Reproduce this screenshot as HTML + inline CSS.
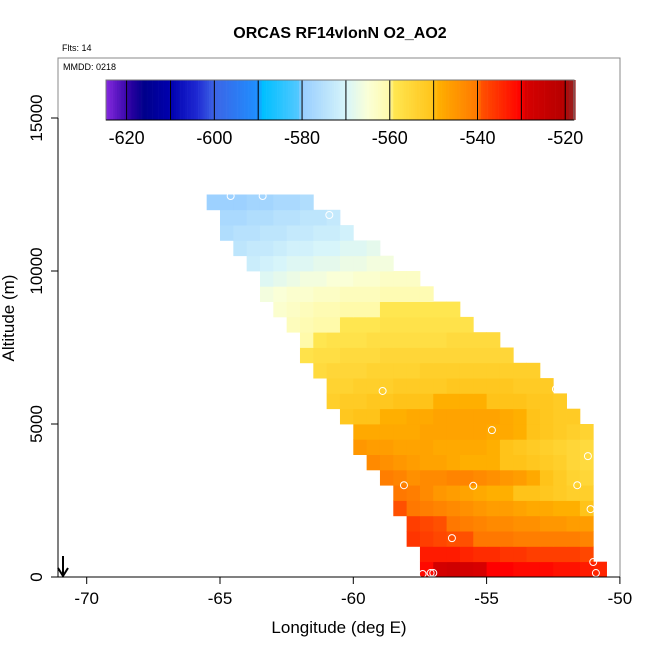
<!DOCTYPE html>
<html><head><meta charset="utf-8"><style>
body{margin:0;background:#fff;}
svg{display:block;font-family:"Liberation Sans",sans-serif;}
</style></head><body>
<svg id="chart" width="650" height="650" viewBox="0 0 650 650" xmlns="http://www.w3.org/2000/svg">
<rect width="650" height="650" fill="#fff"/>
<text x="340" y="38" text-anchor="middle" font-size="16" font-weight="bold">ORCAS RF14vlonN O2_AO2</text>
<text x="62" y="51" font-size="9">Flts: 14</text>
<g id="cells"></g>
<g id="pts"></g>
<rect x="58" y="58" width="562" height="519" fill="none" stroke="#888" stroke-width="1"/>
<text x="63" y="70" font-size="9">MMDD: 0218</text>
<g id="cbar"></g>
<g id="axes"></g>
<text x="339" y="633" text-anchor="middle" font-size="17">Longitude (deg E)</text>
<text transform="translate(14,318) rotate(-90)" text-anchor="middle" font-size="17">Altitude (m)</text>
<g stroke="#000" stroke-width="2" fill="none">
<line x1="63" y1="556" x2="63" y2="576"/><polyline points="58,568 63,576 68,568"/>
</g>
</svg>
<script>
const xTicks=[-70,-65,-60,-55,-50];
const yTicks=[0,5000,10000,15000];
const cbTicks=[-620,-600,-580,-560,-540,-520];
const rowAlt=[0,500,1000,1500,2000,2500,3000,3500,4000,4500,5000,5500,6000,6500,7000,7500,8000,8500,9000,9500,10000,10500,11000,11500,12000];
const rowStart=[-57.5,-57.5,-58,-58,-58.5,-58.5,-59,-59.5,-60,-60,-60.5,-61,-61,-61.5,-62,-62,-62.5,-63,-63.5,-63.5,-64,-64.5,-65,-65,-65.5];
const rowVals=[
[-531,-528,-527,-528,-529,-530,-530,-531,-531,-531,-532,-532,-533,-534],
[-533,-533,-533,-534,-535,-535,-536,-536,-537,-537,-537,-537,-538],
[-536,-537,-538,-539,-539,-540,-540,-540,-541,-541,-541,-541,-541,-542],
[-537,-538,-539,-540,-541,-542,-543,-543,-544,-544,-545,-545,-546,-546],
[-539,-540,-541,-542,-543,-544,-545,-546,-546,-547,-548,-548,-549,-549,-550],
[-540,-541,-543,-545,-546,-547,-548,-549,-549,-550,-550,-551,-552,-553,-553],
[-541,-542,-544,-543,-543,-542,-542,-543,-544,-545,-546,-548,-550,-552,-554,-555],
[-543,-544,-545,-546,-547,-547,-548,-549,-549,-549,-550,-550,-551,-552,-553,-555,-556],
[-545,-546,-546,-547,-547,-547,-548,-548,-548,-548,-549,-550,-551,-552,-553,-554,-555,-556],
[-548,-548,-548,-548,-548,-547,-547,-547,-547,-547,-548,-548,-549,-550,-551,-552,-553,-554],
[-551,-550,-550,-549,-549,-548,-548,-547,-547,-547,-547,-547,-548,-549,-550,-551,-552,-552],
[-553,-552,-552,-551,-551,-550,-550,-550,-549,-549,-549,-549,-550,-550,-550,-551,-551,-552],
[-554,-554,-553,-553,-553,-552,-552,-552,-552,-551,-551,-551,-551,-551,-552,-552,-552],
[-556,-555,-555,-555,-554,-554,-554,-554,-553,-553,-553,-553,-553,-553,-553,-553,-553],
[-558,-557,-557,-556,-556,-556,-555,-555,-555,-555,-555,-555,-555,-555,-555,-555],
[-560,-559,-558,-558,-558,-557,-557,-557,-557,-557,-557,-556,-556,-556,-556],
[-562,-561,-560,-560,-559,-559,-559,-558,-558,-558,-558,-558,-558,-558],
[-564,-563,-562,-561,-561,-560,-560,-560,-559,-559,-559,-559,-559,-559],
[-566,-565,-564,-564,-563,-563,-562,-562,-562,-561,-561,-561,-561],
[-569,-568,-567,-566,-566,-565,-565,-564,-564,-563,-563,-563],
[-572,-571,-570,-569,-569,-568,-568,-567,-567,-566,-566],
[-574,-573,-573,-572,-571,-571,-570,-570,-569,-569,-568],
[-576,-575,-575,-574,-574,-573,-573,-572,-572,-571],
[-577,-577,-576,-576,-575,-575,-574,-574,-573],
[-579,-579,-579,-578,-578,-577,-577,-576]
];
const ptLon=[-65.75,-64.6,-63.4,-60.9,-58.9,-52.4,-54.8,-51.2,-58.1,-55.5,-51.6,-51.1,-56.3,-51.0,-50.9,-57.4,-57.1,-57.0];
const ptAlt=[12400,12450,12450,11830,6080,6140,4800,3950,3000,2980,3000,2220,1270,490,130,100,130,130];
const cbMin=-624.7, cbMax=-518;

const NS='http://www.w3.org/2000/svg';
function X(lon){return 86.7+(lon+70)*26.66;}
function Y(a){return 577-a*0.0306;}
function CB(v){return 106+(v-cbMin)*(574-106)/(cbMax-cbMin);}
const stops=[[-625,[138,43,226]],[-619,[40,0,160]],[-616,[0,0,139]],[-610,[0,0,175]],[-604,[30,40,210]],[-600,[60,100,230]],[-590,[30,144,255]],[-589,[0,191,255]],[-581,[80,200,255]],[-580,[150,205,255]],[-570,[215,245,250]],[-565,[250,255,215]],[-560,[255,250,170]],[-559,[255,230,80]],[-550,[255,195,25]],[-549,[255,175,0]],[-540,[255,120,0]],[-539,[255,80,0]],[-530,[255,0,0]],[-529,[215,0,0]],[-520,[180,0,0]],[-519,[160,25,25]],[-517,[160,25,25]]];
function col(v){
 for(let i=0;i<stops.length-1;i++){const a=stops[i],b=stops[i+1];
  if(v<=b[0]){const t=Math.max(0,Math.min(1,(v-a[0])/(b[0]-a[0])));
   return 'rgb('+a[1].map((c,k)=>Math.round(c+(b[1][k]-c)*t)).join(',')+')';}}
 return 'rgb(160,25,25)';
}
function mk(tag,attrs,parent){const e=document.createElementNS(NS,tag);for(const k in attrs)e.setAttribute(k,attrs[k]);parent.appendChild(e);return e;}
const cells=document.getElementById('cells');
rowVals.forEach((vals,r)=>{
 vals.forEach((v,c)=>{
  const l0=rowStart[r]+c*0.5, a0=rowAlt[r];
  const x0=X(l0),x1=X(l0+0.5),y0=Y(a0+500),y1=Y(a0);
  const e=mk('rect',{x:x0.toFixed(2),y:y0.toFixed(2),width:(x1-x0+0.4).toFixed(2),height:(y1-y0+0.4).toFixed(2),fill:col(v)},cells);
  
  
 });
});
const pts=document.getElementById('pts');
ptLon.forEach((lon,i)=>{
 const e=mk('circle',{cx:X(lon),cy:Y(ptAlt[i]),r:3.5,fill:'none',stroke:'#fff','stroke-width':1},pts);
 
 
});
const cb=document.getElementById('cbar');
for(let v=cbMin;v<cbMax;v+=0.5){
 const e=mk('rect',{x:CB(v),y:80,width:CB(v+0.5)-CB(v)+0.3,height:40,fill:col(v+0.25)},cb);
 
 
}
for(let v=-620;v<=-520;v+=10){
 const e=mk('line',{x1:CB(v),x2:CB(v),y1:80,y2:120,stroke:'#000','stroke-width':1},cb);
 
 
}
const fr=mk('rect',{x:106,y:80,width:468,height:40,fill:'none',stroke:'#777','stroke-width':1},cb);


const bl=mk('line',{x1:106,x2:574,y1:120,y2:120,stroke:'#000','stroke-width':1},cb);


cbTicks.forEach(v=>{
 const t=mk('text',{x:CB(v),y:144,'text-anchor':'middle','font-size':18},cb);
 t.textContent=String(v);
 
 
});
const ax=document.getElementById('axes');
const xl=mk('line',{x1:58,x2:620,y1:577,y2:577,stroke:'#000','stroke-width':1},ax);


const yl=mk('line',{x1:58,x2:58,y1:118,y2:577,stroke:'#000','stroke-width':1},ax);


xTicks.forEach(v=>{
 const l=mk('line',{x1:X(v),x2:X(v),y1:577,y2:584,stroke:'#000'},ax);
 
 
 const t=mk('text',{x:X(v),y:604,'text-anchor':'middle','font-size':17},ax);
 t.textContent=v;
 
 
});
yTicks.forEach(v=>{
 const l=mk('line',{x1:51,x2:58,y1:Y(v),y2:Y(v),stroke:'#000'},ax);
 
 
 const t=mk('text',{transform:'translate(42,'+Y(v)+') rotate(-90)','text-anchor':'middle','font-size':17},ax);
 t.textContent=v;
 
 
});
</script>
</body></html>
